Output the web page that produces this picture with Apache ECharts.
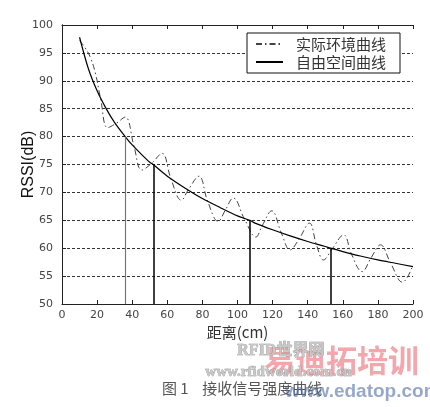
<!DOCTYPE html>
<html>
<head>
<meta charset="utf-8">
<script src="https://cdn.jsdelivr.net/npm/echarts@6/dist/echarts.min.js"></script>
<style>
html,body{margin:0;padding:0;background:#fff;}
#c{width:430px;height:407px;}
</style>
</head>
<body>
<div id="c"></div>
<script>
// Free-space curve (distance cm, RSSI dB)
const freeD = [10,15,20,25,30,36,40,45,50,52,60,70,80,90,100,107,110,120,130,140,150,153,160,170,180,190,200];
const freeV = [97.8,92.2,88.2,85.1,82.5,80.0,78.5,76.9,75.4,75.0,72.9,70.8,68.9,67.3,65.8,65.0,64.5,63.3,62.2,61.2,60.3,60.0,59.4,58.6,57.9,57.3,56.7];
// Actual environment curve
const actD = [10,13,16,19,22,26,31,36,41,45.5,51,57,62,68,72,78,83,89,93,97.6,104,110.5,114,119.5,125,130,135,141,145,149,154,160.5,165,171,176,181.5,187,194,200];
const actV = [97.2,96.0,94.3,91.4,86.8,81.6,82.4,83.5,78.3,74.0,75.2,77.0,72.5,68.6,70.5,72.9,68.4,64.8,66.8,69.0,65.2,62.0,64.0,66.7,62.7,59.7,61.6,64.5,60.6,57.9,59.9,62.4,58.9,55.8,58.2,60.6,57.5,53.9,57.0];
// Marker verticals
const markD = [36,52,107,153];
const markV = [80,75,65,60];
const seriesNames = ['实际环境曲线','自由空间曲线'];
const xTicks = {min:0,max:200,interval:20};
const yTicks = {min:50,max:100,interval:5};

const chart = echarts.init(document.getElementById('c'));
const tickLbl = {color:'#444',fontSize:11,fontFamily:'DejaVu Sans'};
const axisLine = {show:true,lineStyle:{color:'#222',width:1}};
const tickIn = {show:true,inside:true,length:4,lineStyle:{color:'#222'}};

chart.setOption({
  animation:false,
  backgroundColor:'#fff',
  grid:{left:62,right:17,top:25,bottom:103,containLabel:false,outerBoundsMode:'none'},
  legend:{
    orient:'vertical', left:247, top:33,
    itemWidth:27, itemHeight:12, itemGap:2,
    padding:[3,14,3,8],
    borderColor:'#111', borderWidth:1, backgroundColor:'#fff',
    itemStyle:{opacity:0},
    textStyle:{fontSize:15,color:'#333',lineHeight:16,padding:[0,0,0,8],fontFamily:'Noto Sans CJK SC'},
    data:seriesNames
  },
  xAxis:[
    {type:'value',min:xTicks.min,max:xTicks.max,interval:xTicks.interval,position:'bottom',
     axisLine:axisLine,axisTick:tickIn,splitLine:{show:false},
     axisLabel:Object.assign({margin:6},tickLbl),
     name:'距离(cm)',nameLocation:'middle',nameGap:21,nameMoveOverlap:false,
     nameTextStyle:{fontSize:15,color:'#333',fontFamily:'Noto Sans CJK SC'}},
    {type:'value',min:xTicks.min,max:xTicks.max,interval:xTicks.interval,position:'top',
     axisLine:axisLine,axisTick:tickIn,splitLine:{show:false},axisLabel:{show:false}}
  ],
  yAxis:[
    {type:'value',min:yTicks.min,max:yTicks.max,interval:yTicks.interval,position:'left',
     axisLine:axisLine,axisTick:tickIn,
     splitLine:{show:true,lineStyle:{color:'#333',type:[3,2],width:1}},
     axisLabel:Object.assign({margin:9},tickLbl),
     name:'RSSI(dB)',nameLocation:'middle',nameGap:25,nameRotate:90,nameMoveOverlap:false,
     nameTextStyle:{fontSize:16,color:'#111',fontFamily:'Liberation Sans'}},
    {type:'value',min:yTicks.min,max:yTicks.max,interval:yTicks.interval,position:'right',
     axisLine:axisLine,axisTick:{show:false},splitLine:{show:false},axisLabel:{show:false}}
  ],
  series:[
    {name:seriesNames[0],type:'line',smooth:0.4,symbol:'none',
     data:actD.map((d,i)=>[d,actV[i]]),
     lineStyle:{color:'#444',width:1,type:[6,3,1.5,3]},itemStyle:{color:'#444'},z:3},
    {name:seriesNames[1],type:'line',smooth:0.3,symbol:'none',
     data:freeD.map((d,i)=>[d,freeV[i]]),
     lineStyle:{color:'#000',width:1.2},itemStyle:{color:'#000'},z:4,
     markLine:{silent:true,symbol:'none',label:{show:false},
       data:markD.map((d,i)=>[
         {coord:[d,yTicks.min],lineStyle:{color:i===0?'#777':'#000',width:i===0?1.2:1.5,type:'solid'}},
         {coord:[d,markV[i]]}
       ])}}
  ],
  graphic:[
    {type:'text',left:162,top:381,style:{text:'图 1    接收信号强度曲线',font:'15px "Noto Sans CJK SC"',fill:'#555'}},
    {type:'text',left:264,top:345,style:{text:'易迪拓培训',font:'bold 31px "Noto Sans CJK SC"',fill:'rgba(232,80,90,0.5)'}},
    {type:'text',left:237,top:343,style:{text:'RFID世界网',font:'bold 16px "Liberation Serif","Noto Sans CJK SC"',fill:'#c8c8c8',stroke:'#8a8a8a',lineWidth:0.6}},
    {type:'text',left:205,top:364,style:{text:'www.rfidworld.com.cn',font:'bold 15px "Liberation Serif"',fill:'#c8c8c8',stroke:'#8a8a8a',lineWidth:0.6}},
    {type:'text',left:285,top:382,style:{text:'www.edatop.com',font:'bold 19px "Liberation Sans"',fill:'rgba(80,110,165,0.6)'}}
  ]
});
</script>
</body>
</html>
